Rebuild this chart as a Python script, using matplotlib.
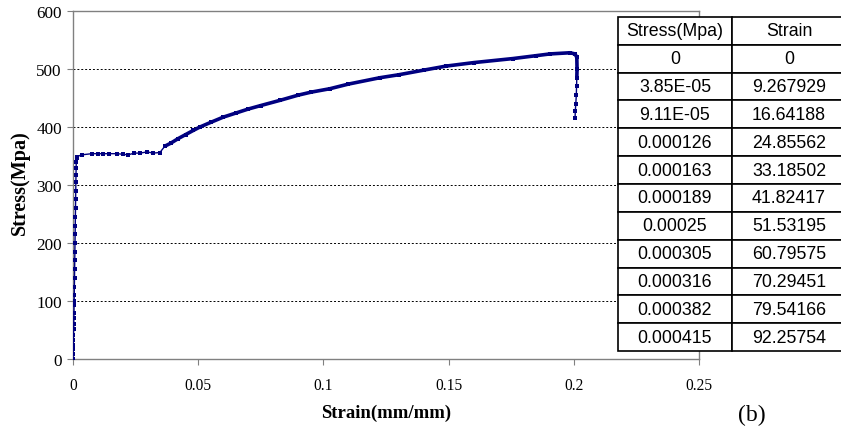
import matplotlib
matplotlib.use("Agg")
import matplotlib.pyplot as plt
from matplotlib import font_manager

# ---------------- data ----------------
strain = [0, 3.85e-05, 9.11e-05, 0.000126, 0.000163, 0.000189, 0.00025, 0.000305,
          0.000316, 0.000382, 0.000415, 0.00045, 0.0005, 0.00055, 0.0006, 0.00065,
          0.0007, 0.00075, 0.0008, 0.00085, 0.0009, 0.00095, 0.001, 0.00105, 0.0011,
          0.00115, 0.0012, 0.00125, 0.0013, 0.0014, 0.0016, 0.0035,
          0.0075, 0.010, 0.012, 0.0145, 0.0175, 0.020, 0.022, 0.0245, 0.0268, 0.0296,
          0.032, 0.0347, 0.0367, 0.039, 0.042, 0.045, 0.048, 0.0507, 0.055, 0.060,
          0.065, 0.070, 0.075, 0.0827, 0.090, 0.095, 0.1026, 0.110, 0.1226, 0.130,
          0.140, 0.149, 0.160, 0.1757, 0.185, 0.1905, 0.1985, 0.2005, 0.2012, 0.2013,
          0.2012, 0.2011, 0.2010, 0.2008, 0.2006, 0.2005]
stress = [0, 9.267929, 16.64188, 24.85562, 33.18502, 41.82417, 51.53195, 60.79575,
          70.29451, 79.54166, 92.25754, 100, 110, 125, 140, 155,
          170, 185, 200, 215, 230, 245, 260, 275, 290,
          305, 318, 330, 340, 346, 349, 352,
          354, 354, 354, 354, 354, 353, 352, 355, 355, 357,
          355, 356, 367, 372, 380, 387, 394, 400, 408, 417,
          424, 431, 437, 446, 455, 460, 466, 474, 485, 490,
          498, 505, 511, 518, 523, 526, 528, 526, 520, 500,
          484, 470, 455, 440, 428, 415]

hardening_start = 44  # first index of the thick (dense-marker) part
hardening_end = 73    # end (exclusive) of the thick part

x_ticks = [0, 0.05, 0.1, 0.15, 0.2, 0.25]
x_tick_labels = ["0", "0.05", "0.1", "0.15", "0.2", "0.25"]
y_ticks = [0, 100, 200, 300, 400, 500, 600]
y_tick_labels = ["0", "100", "200", "300", "400", "500", "600"]

table_header = ["Stress(Mpa)", "Strain"]
table_col1 = ["0", "3.85E-05", "9.11E-05", "0.000126", "0.000163", "0.000189",
              "0.00025", "0.000305", "0.000316", "0.000382", "0.000415"]
table_col2 = ["0", "9.267929", "16.64188", "24.85562", "33.18502", "41.82417",
              "51.53195", "60.79575", "70.29451", "79.54166", "92.25754"]

# ---------------- fonts ----------------
names = {f.name for f in font_manager.fontManager.ttflist}
if "Liberation Sans Narrow" in names:
    tfont, tsize = "Liberation Sans Narrow", 14.5
elif "DejaVu Sans Condensed" in names:
    tfont, tsize = "DejaVu Sans Condensed", 12
else:
    tfont, tsize = "Liberation Sans", 12.8
serif = "Liberation Serif"

W, H = 841, 427
fig = plt.figure(figsize=(W / 100, H / 100), dpi=100)
ax = fig.add_axes([73 / W, 1 - 360 / H, (699 - 73) / W, (360 - 12) / H])

navy = "#000080"
ax.plot(strain, stress, color=navy, lw=1.0, marker="s", ms=2.6, mew=0, zorder=3)
ax.plot(strain[hardening_start:hardening_end], stress[hardening_start:hardening_end],
        color=navy, lw=2.6, solid_capstyle="butt", zorder=3)

ax.set_xlim(0, 0.25)
ax.set_ylim(0, 600)
ax.set_xticks(x_ticks)
ax.set_xticklabels(x_tick_labels, fontfamily=serif, fontsize=11.2)
ax.set_yticks(y_ticks)
ax.set_yticklabels(y_tick_labels, fontfamily=serif, fontsize=12.3)
ax.tick_params(axis="x", direction="out", length=4, width=0.8, color="#808080", pad=9)
ax.tick_params(axis="y", direction="out", length=4, width=0.8, color="#808080", pad=4)

for s in ax.spines.values():
    s.set_color("#808080")
    s.set_linewidth(1.0)

for yv in y_ticks[1:-1]:
    ax.axhline(yv, color="black", lw=0.7, dashes=(2, 2), zorder=1)

ax.set_xlabel("Strain(mm/mm)", fontfamily=serif, fontweight="bold", fontsize=13.5)
ax.xaxis.set_label_coords(0.5, (360 - 413) / 348)
ax.xaxis.label.set_va("center")
ax.set_ylabel("Stress(Mpa)", fontfamily=serif, fontweight="bold", fontsize=14.5)
ax.yaxis.set_label_coords((20 - 73) / 626, (360 - 183) / 348)
ax.yaxis.label.set_va("center")

# ---------------- table ----------------
tax = fig.add_axes([618 / W, 1 - 352 / H, (846 - 618) / W, (352 - 18) / H])
tax.axis("off")
cells = [[a, b] for a, b in zip(table_col1, table_col2)]
tbl = tax.table(cellText=cells, colLabels=table_header, cellLoc="center",
                bbox=[0, 0, 1, 1])
tbl.auto_set_font_size(False)
for (r, c), cell in tbl.get_celld().items():
    cell.set_edgecolor("black")
    cell.set_linewidth(1.2)
    cell.set_facecolor("white")
    cell.get_text().set_fontfamily(tfont)
    cell.get_text().set_fontsize(tsize)

fig.text(752 / W, 1 - 426 / H, "(b)", fontfamily=serif, fontsize=17,
         ha="center", va="bottom")

fig.savefig("out.png", dpi=100)
